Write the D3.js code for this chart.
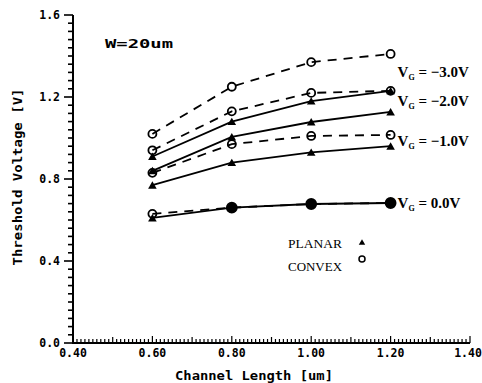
<!DOCTYPE html>
<html>
<head>
<meta charset="utf-8">
<script src="https://cdn.jsdelivr.net/npm/d3@7"></script>
<style>
  body { margin: 0; background: #fff; }
  text { fill: #000; }
</style>
</head>
<body>
<svg width="482" height="383"></svg>
<script>
// channel lengths (um) and gate biases
const lengths = [0.6, 0.8, 1.0, 1.2];
const gateLabels = ["\u22123.0V", "\u22122.0V", "\u22121.0V", "0.0V"];
// threshold voltage [V], one row per gate bias
const convex = [
  [1.02, 1.25, 1.37, 1.41],
  [0.94, 1.13, 1.22, 1.23],
  [0.83, 0.97, 1.01, 1.015],
  [0.63, 0.66, 0.678, 0.683]
];
const planar = [
  [0.91, 1.08, 1.18, 1.23],
  [0.84, 1.005, 1.078, 1.127],
  [0.77, 0.88, 0.93, 0.96],
  [0.61, 0.66, 0.678, 0.683]
];
const xTicks = [0.4, 0.6, 0.8, 1.0, 1.2, 1.4];
const yTicks = [0.0, 0.4, 0.8, 1.2, 1.6];

const svg = d3.select("svg");
const x = d3.scaleLinear().domain([0.4, 1.4]).range([73, 470]);
const y = d3.scaleLinear().domain([0, 1.6]).range([343, 15]);
const monoFont = "'DejaVu Sans Mono', monospace";

drawAxes();
drawSeries();
drawLabels();

/////////////HELPERS//////////////////

function drawAxes() {
  const yMinor = d3.range(0, 41).map(i => +(i * 0.04).toFixed(2));
  const xMinor = d3.range(0, 101).map(i => +(0.4 + i * 0.01).toFixed(2));
  const g = svg.append("g").attr("fill", "#000");

  // axis lines
  g.append("rect").attr("x", x(0.4) - 1).attr("y", y(1.6))
    .attr("width", 2).attr("height", y(0) - y(1.6) + 1);
  g.append("rect").attr("x", x(0.4) - 1).attr("y", y(0) - 1)
    .attr("width", x(1.4) - x(0.4) + 1).attr("height", 2);

  // y ticks, pointing left
  g.selectAll(".ytick").data(yMinor).enter().append("rect")
    .attr("class", "ytick")
    .attr("x", (d, i) => x(0.4) - (i % 10 === 0 ? 9 : 5))
    .attr("y", d => y(d) - 0.8)
    .attr("width", (d, i) => i % 10 === 0 ? 9 : 5)
    .attr("height", 1.6);

  // x ticks, pointing up
  g.selectAll(".xtick").data(xMinor).enter().append("rect")
    .attr("class", "xtick")
    .attr("x", d => x(d) - 0.6)
    .attr("y", (d, i) => y(0) - (i % 20 === 0 ? 7 : i % 10 === 0 ? 6 : 4))
    .attr("width", 1.2)
    .attr("height", (d, i) => i % 20 === 0 ? 7 : i % 10 === 0 ? 6 : 4);

  svg.selectAll(".xl").data(xTicks).enter().append("text")
    .attr("x", (d, i) => x(d) - (i === xTicks.length - 1 ? 2 : 0))
    .attr("y", 357)
    .attr("text-anchor", "middle")
    .style("font-family", monoFont)
    .style("font-weight", "bold")
    .style("font-size", "11.5px")
    .text(d3.format(".2f"));

  svg.selectAll(".yl").data(yTicks).enter().append("text")
    .attr("x", 60)
    .attr("y", d => y(d) + 4)
    .attr("text-anchor", "end")
    .style("font-family", monoFont)
    .style("font-weight", "bold")
    .style("font-size", "11.5px")
    .text(d3.format(".1f"));

  svg.append("text")
    .attr("x", 254).attr("y", 380)
    .attr("text-anchor", "middle")
    .attr("textLength", 158).attr("lengthAdjust", "spacingAndGlyphs")
    .style("font-family", monoFont)
    .style("font-weight", "bold")
    .style("font-size", "13px")
    .text("Channel Length [um]");

  svg.append("text")
    .attr("transform", "translate(22,177) rotate(-90)")
    .attr("text-anchor", "middle")
    .attr("textLength", 177).attr("lengthAdjust", "spacingAndGlyphs")
    .style("font-family", monoFont)
    .style("font-weight", "bold")
    .style("font-size", "13px")
    .text("Threshold Voltage [V]");
}

function drawSeries() {
  const line = d3.line().x((d, i) => x(lengths[i])).y(d => y(d));
  const g = svg.append("g");

  g.selectAll(".planar").data(planar).enter().append("path")
    .attr("d", line)
    .attr("fill", "none").attr("stroke", "#000").attr("stroke-width", 1.8);
  g.selectAll(".convex").data(convex).enter().append("path")
    .attr("d", line)
    .attr("fill", "none").attr("stroke", "#000").attr("stroke-width", 1.8)
    .attr("stroke-dasharray", "9,7");

  const tri = d3.symbol(d3.symbolTriangle).size(32);
  planar.forEach(row => {
    g.selectAll(null).data(row).enter().append("path")
      .attr("d", tri)
      .attr("transform", (d, i) => `translate(${x(lengths[i])},${y(d) + 1})`)
      .attr("fill", "#000");
  });
  convex.forEach((row, r) => {
    const same = (d, i) => Math.abs(d - planar[r][i]) < 0.01;
    g.selectAll(null).data(row).enter().append("circle")
      .attr("cx", (d, i) => x(lengths[i]))
      .attr("cy", d => y(d))
      .attr("r", (d, i) => same(d, i) ? 5 : 4)
      .attr("fill", (d, i) => same(d, i) ? "#000" : "none")
      .attr("stroke", "#000").attr("stroke-width", 1.8);
  });
}

function drawLabels() {
  svg.append("text")
    .attr("x", 105).attr("y", 48)
    .attr("textLength", 68).attr("lengthAdjust", "spacingAndGlyphs")
    .style("font-family", monoFont)
    .style("font-weight", "bold")
    .style("font-size", "13px")
    .text("W=20um");

  const last = lengths.length - 1;
  gateLabels.forEach((lab, r) => {
    const mid = (convex[r][last] + planar[r][last]) / 2;
    const t = svg.append("text")
      .attr("x", x(lengths[last]) + 7)
      .attr("y", y(mid) + 5)
      .style("font-family", "'Liberation Serif', serif")
      .style("font-weight", "bold")
      .style("font-size", "15px");
    t.append("tspan").text("V");
    t.append("tspan").attr("dy", 3).style("font-size", "8px").text("G");
    t.append("tspan").attr("dy", -3).text(" = " + lab);
  });

  // legend
  const lg = svg.append("g").style("font-family", "'Liberation Serif', serif")
    .style("font-size", "13px");
  lg.append("text").attr("x", 288).attr("y", 248)
    .attr("textLength", 54).attr("lengthAdjust", "spacingAndGlyphs").text("PLANAR");
  lg.append("text").attr("x", 288).attr("y", 271)
    .attr("textLength", 54).attr("lengthAdjust", "spacingAndGlyphs").text("CONVEX");
  lg.append("path")
    .attr("d", d3.symbol(d3.symbolTriangle).size(18))
    .attr("transform", "translate(362,243)").attr("fill", "#000");
  lg.append("circle").attr("cx", 362).attr("cy", 259).attr("r", 3)
    .attr("fill", "none").attr("stroke", "#000").attr("stroke-width", 1.5);
}
</script>
</body>
</html>
